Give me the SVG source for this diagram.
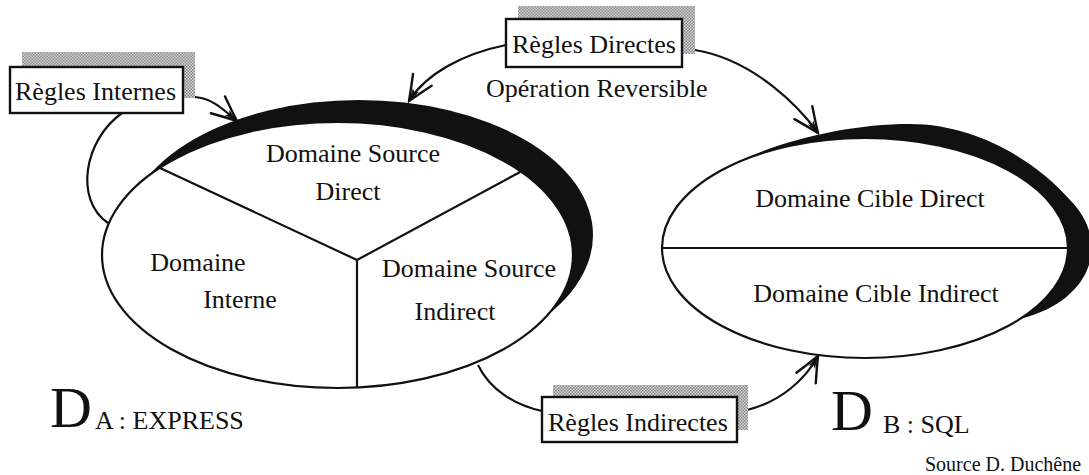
<svg xmlns="http://www.w3.org/2000/svg" width="1089" height="475" viewBox="0 0 1089 475">
  <style>
    text { font-family: "Liberation Serif", "Times New Roman", serif; fill: #111; }
    .lbl { font-size: 26px; }
    .mid { text-anchor: middle; }
    .line { fill: none; stroke: #111; stroke-width: 2.2; }
    .box { fill: #fff; stroke: #111; stroke-width: 2.4; }
    .shadow { fill: url(#dots); }
    .crescent { fill: #111; }
    .inner { fill: #fff; stroke: #111; stroke-width: 2.2; }
  </style>
  <defs>
    <pattern id="dots" width="3" height="3" patternUnits="userSpaceOnUse">
      <rect width="3" height="3" fill="#d4d4d4"/>
      <rect width="1.5" height="1.5" fill="#8a8a8a"/>
      <rect x="1.5" y="1.5" width="1.5" height="1.5" fill="#8a8a8a"/>
    </pattern>
    <marker id="arrow" markerUnits="userSpaceOnUse" markerWidth="30" markerHeight="26" viewBox="0 0 30 26" refX="28" refY="13" orient="auto">
      <path d="M3,2 Q16,8 28,13 Q16,18 3,24" fill="none" stroke="#111" stroke-width="2.4" stroke-linecap="round"/>
      <path d="M28,13 L15,9.5 L18,13 L15,16.5 Z" fill="#111"/>
    </marker>
  </defs>

  <g id="connectors">
    <path class="line" d="M122,113 C84,140 74,200 108,223"/>
    <path class="line" d="M195,97 C212,98 224,110 237,121" marker-end="url(#arrow)"/>
    <path class="line" d="M506,45 C462,54 426,74 409,101" marker-end="url(#arrow)"/>
    <path class="line" d="M695,50 C755,60 800,108 818,133" marker-end="url(#arrow)"/>
    <path class="line" d="M478,365 C490,390 515,405 542,411"/>
    <path class="line" d="M747,410 C780,402 805,380 818,356" marker-end="url(#arrow)"/>
  </g>

  <g id="domaine-a">
    <ellipse class="crescent" cx="359" cy="235" rx="234" ry="135"/>
    <ellipse class="inner" cx="337.5" cy="255" rx="235.5" ry="133"/>
    <path class="line" d="M160,168 L357,260 L522,171 M357,260 L357,388"/>
    <text class="lbl mid" x="353" y="162">Domaine Source</text>
    <text class="lbl mid" x="348" y="200">Direct</text>
    <text class="lbl mid" x="198" y="271">Domaine</text>
    <text class="lbl mid" x="240" y="308">Interne</text>
    <text class="lbl mid" x="469" y="277">Domaine Source</text>
    <text class="lbl mid" x="455" y="320">Indirect</text>
  </g>

  <g id="domaine-b">
    <path class="crescent" d="M708,178 C760,145 840,124 910,124 C975,124 1035,160 1070,200 C1110,240 1095,300 1020,319 L865,248 Z"/>
    <ellipse class="inner" cx="865" cy="248" rx="203" ry="110"/>
    <path class="line" d="M662,248 L1068,248"/>
    <text class="lbl mid" x="870" y="207">Domaine Cible Direct</text>
    <text class="lbl mid" x="876" y="302">Domaine Cible Indirect</text>
  </g>

  <g id="regles-internes">
    <rect class="shadow" x="22" y="52" width="173" height="46"/>
    <rect class="box" x="10" y="67" width="173" height="46"/>
    <text class="lbl" x="15" y="100">Règles Internes</text>
  </g>

  <g id="regles-directes">
    <rect class="shadow" x="518" y="6" width="177" height="48"/>
    <rect class="box" x="506" y="19" width="176" height="48"/>
    <text class="lbl" x="512" y="53">Règles Directes</text>
  </g>

  <g id="regles-indirectes">
    <rect class="shadow" x="553" y="385" width="195" height="45"/>
    <rect class="box" x="542" y="397" width="195" height="45"/>
    <text class="lbl" x="548" y="431">Règles Indirectes</text>
  </g>

  <g id="labels">
    <text class="lbl" x="486" y="97">Opération Reversible</text>
    <text x="50" y="427" style="font-size:58px">D</text>
    <text class="lbl" x="95" y="429">A : EXPRESS</text>
    <text x="831" y="430" style="font-size:58px">D</text>
    <text class="lbl" x="883" y="433">B : SQL</text>
    <text x="925" y="471" style="font-size:20px">Source D. Duchêne</text>
  </g>
</svg>
